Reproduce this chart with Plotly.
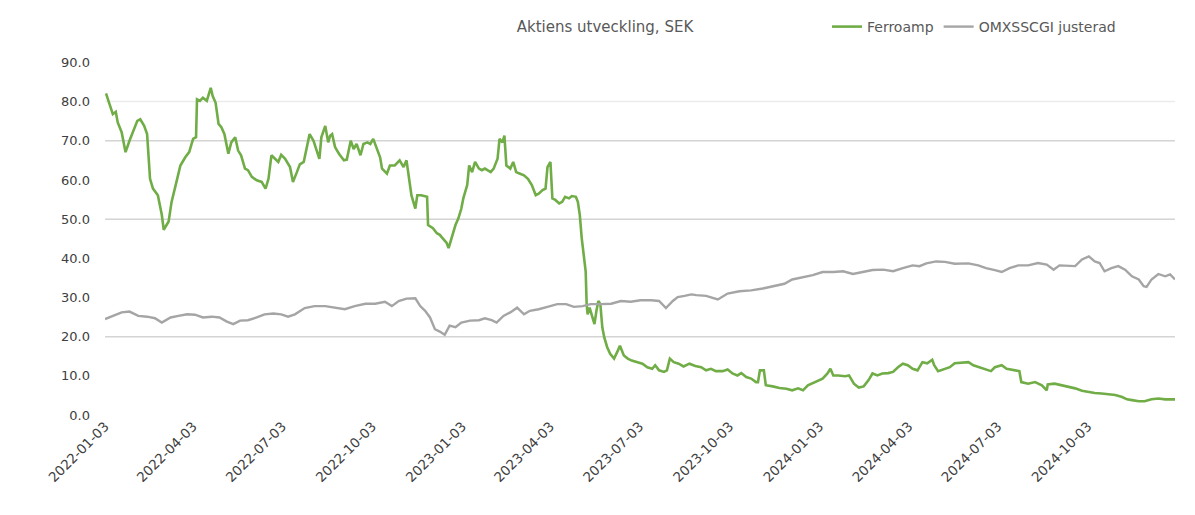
import plotly.graph_objects as go

TITLE = "Aktiens utveckling, SEK"
SERIES_NAMES = ["Ferroamp", "OMXSSCGI justerad"]

FERRO_DATES = [
    "2022-01-04", "2022-01-08", "2022-01-11", "2022-01-14", "2022-01-16", "2022-01-20", "2022-01-24",
    "2022-01-28", "2022-02-01", "2022-02-05", "2022-02-08", "2022-02-12", "2022-02-15", "2022-02-18",
    "2022-02-21", "2022-02-26", "2022-03-02", "2022-03-04", "2022-03-09", "2022-03-12", "2022-03-17",
    "2022-03-21", "2022-03-26", "2022-03-30", "2022-04-03", "2022-04-06", "2022-04-07", "2022-04-10",
    "2022-04-13", "2022-04-17", "2022-04-21", "2022-04-23", "2022-04-26", "2022-04-29", "2022-05-02",
    "2022-05-05", "2022-05-09", "2022-05-12", "2022-05-16", "2022-05-19", "2022-05-22", "2022-05-26",
    "2022-05-29", "2022-06-02", "2022-06-07", "2022-06-12", "2022-06-16", "2022-06-19", "2022-06-22",
    "2022-06-26", "2022-06-29", "2022-07-02", "2022-07-06", "2022-07-11", "2022-07-14", "2022-07-18",
    "2022-07-21", "2022-07-25", "2022-07-28", "2022-07-31", "2022-08-04", "2022-08-06", "2022-08-10",
    "2022-08-12", "2022-08-16", "2022-08-19", "2022-08-21", "2022-08-23", "2022-08-26", "2022-08-30",
    "2022-09-04", "2022-09-07", "2022-09-11", "2022-09-14", "2022-09-17", "2022-09-21", "2022-09-24",
    "2022-09-28", "2022-10-01", "2022-10-04", "2022-10-08", "2022-10-11", "2022-10-13", "2022-10-18",
    "2022-10-21", "2022-10-26", "2022-10-31", "2022-11-04", "2022-11-07", "2022-11-09", "2022-11-12",
    "2022-11-16", "2022-11-18", "2022-11-22", "2022-11-28", "2022-11-29", "2022-12-04", "2022-12-08",
    "2022-12-11", "2022-12-14", "2022-12-18", "2022-12-20", "2022-12-23", "2022-12-27", "2022-12-30",
    "2023-01-02", "2023-01-04", "2023-01-08", "2023-01-10", "2023-01-13", "2023-01-16", "2023-01-20",
    "2023-01-23", "2023-01-26", "2023-02-01", "2023-02-04", "2023-02-08", "2023-02-10", "2023-02-13",
    "2023-02-15", "2023-02-17", "2023-02-21", "2023-02-24", "2023-02-27", "2023-03-03", "2023-03-07",
    "2023-03-11", "2023-03-15", "2023-03-19", "2023-03-22", "2023-03-26", "2023-03-29", "2023-03-31",
    "2023-04-03", "2023-04-05", "2023-04-08", "2023-04-12", "2023-04-15", "2023-04-18", "2023-04-22",
    "2023-04-25", "2023-04-29", "2023-05-01", "2023-05-03", "2023-05-05", "2023-05-07", "2023-05-09",
    "2023-05-10", "2023-05-11", "2023-05-13", "2023-05-16", "2023-05-18", "2023-05-20", "2023-05-22",
    "2023-05-24", "2023-05-26", "2023-05-28", "2023-05-31", "2023-06-03", "2023-06-07", "2023-06-11",
    "2023-06-13", "2023-06-17", "2023-06-21", "2023-06-25", "2023-07-01", "2023-07-06", "2023-07-11",
    "2023-07-16", "2023-07-19", "2023-07-23", "2023-07-28", "2023-07-31", "2023-08-03", "2023-08-07",
    "2023-08-12", "2023-08-17", "2023-08-23", "2023-08-29", "2023-09-04", "2023-09-09", "2023-09-14",
    "2023-09-19", "2023-09-26", "2023-10-01", "2023-10-06", "2023-10-11", "2023-10-15", "2023-10-20",
    "2023-10-25", "2023-10-30", "2023-11-01", "2023-11-03", "2023-11-07", "2023-11-09", "2023-11-16",
    "2023-11-23", "2023-11-30", "2023-12-06", "2023-12-12", "2023-12-17", "2023-12-22", "2023-12-27",
    "2024-01-01", "2024-01-06", "2024-01-11", "2024-01-14", "2024-01-17", "2024-01-22", "2024-01-29",
    "2024-02-02", "2024-02-07", "2024-02-12", "2024-02-17", "2024-02-22", "2024-02-26", "2024-03-02",
    "2024-03-07", "2024-03-13", "2024-03-18", "2024-03-23", "2024-03-28", "2024-04-02", "2024-04-07",
    "2024-04-12", "2024-04-17", "2024-04-22", "2024-04-27", "2024-04-29", "2024-05-03", "2024-05-10",
    "2024-05-15", "2024-05-20", "2024-05-27", "2024-06-03", "2024-06-08", "2024-06-14", "2024-06-21",
    "2024-06-26", "2024-06-30", "2024-07-07", "2024-07-12", "2024-07-19", "2024-07-25", "2024-07-27",
    "2024-08-03", "2024-08-10", "2024-08-17", "2024-08-22", "2024-08-23", "2024-08-30", "2024-09-06",
    "2024-09-13", "2024-09-20", "2024-09-27", "2024-10-04", "2024-10-10", "2024-10-17", "2024-10-24",
    "2024-10-31", "2024-11-07", "2024-11-12", "2024-11-17", "2024-11-24", "2024-11-30", "2024-12-07",
    "2024-12-14", "2024-12-21", "2024-12-28", "2024-12-31",
]
FERRO_VALUES = [
    82.1, 78.9, 76.8, 77.4, 74.7, 72.2, 67.1,
    70.0, 72.6, 75.1, 75.5, 73.8, 71.7, 60.3,
    57.8, 56.1, 51.1, 47.3, 49.4, 54.4, 59.5,
    63.7, 65.8, 67.1, 70.5, 70.9, 80.6, 80.2,
    81.0, 80.2, 83.5, 81.4, 79.7, 74.3, 73.4,
    71.7, 66.7, 69.6, 70.9, 67.5, 66.3, 62.9,
    62.5, 60.8, 59.9, 59.5, 57.8, 60.3, 66.3,
    65.4, 64.6, 66.4, 65.4, 63.3, 59.5, 62.0,
    64.0, 64.6, 67.9, 71.7, 70.0, 68.4, 65.4,
    70.9, 73.8, 69.6, 71.3, 71.7, 68.4, 66.7,
    65.0, 65.2, 70.0, 67.9, 69.2, 66.3, 69.2,
    69.6, 69.2, 70.5, 67.9, 65.8, 62.9, 61.6,
    63.7, 63.7, 65.0, 63.3, 65.0, 61.2, 56.1,
    52.7, 56.1, 56.1, 55.7, 48.5, 47.7, 46.4,
    46.0, 45.1, 43.9, 42.6, 45.1, 48.5, 50.2,
    52.7, 55.3, 58.7, 63.7, 62.0, 64.6, 62.9,
    62.5, 62.9, 62.0, 62.9, 65.4, 70.5, 69.6,
    71.3, 63.7, 62.9, 64.6, 62.0, 61.6, 61.2,
    60.3, 58.7, 56.1, 56.5, 57.4, 57.8, 63.3,
    64.6, 55.3, 54.9, 54.0, 54.4, 55.7, 55.3,
    55.9, 55.7, 54.4, 51.1, 45.1, 40.1, 36.7,
    28.3, 25.7, 27.4, 24.9, 23.2, 26.6, 29.1,
    28.3, 22.4, 19.8, 17.3, 15.6, 14.4, 16.5,
    17.7, 15.2, 14.4, 13.9, 13.5, 13.1, 12.2,
    11.8, 12.7, 11.4, 11.0, 11.4, 14.4, 13.5,
    13.1, 12.4, 13.1, 12.5, 12.2, 11.4, 11.8,
    11.2, 11.2, 11.6, 10.6, 10.1, 10.7, 9.7,
    9.3, 8.4, 8.4, 11.4, 11.4, 7.6, 7.3,
    6.9, 6.7, 6.3, 6.8, 6.3, 7.6, 8.2,
    8.9, 9.3, 10.6, 11.8, 10.1, 10.1, 9.9,
    10.1, 8.0, 7.0, 7.3, 8.9, 10.6, 10.1,
    10.6, 10.7, 11.0, 12.2, 13.1, 12.7, 11.8,
    11.4, 13.5, 13.2, 14.1, 12.7, 11.2, 11.8,
    12.2, 13.2, 13.3, 13.5, 12.7, 12.2, 11.8,
    11.2, 12.2, 12.7, 11.8, 11.4, 11.2, 8.4,
    8.0, 8.4, 7.6, 6.3, 7.8, 8.0, 7.6,
    7.3, 6.8, 6.2, 5.9, 5.6, 5.5, 5.3,
    5.1, 4.6, 4.0, 3.8, 3.5, 3.5, 4.0,
    4.2, 4.0, 4.0, 4.0,
]

INDEX_DATES = [
    "2022-01-03", "2022-01-11", "2022-01-20", "2022-01-28", "2022-02-06", "2022-02-15", "2022-02-23",
    "2022-03-02", "2022-03-11", "2022-03-19", "2022-03-28", "2022-04-05", "2022-04-13", "2022-04-22",
    "2022-04-30", "2022-05-07", "2022-05-14", "2022-05-21", "2022-05-29", "2022-06-07", "2022-06-15",
    "2022-06-24", "2022-07-02", "2022-07-09", "2022-07-16", "2022-07-26", "2022-08-05", "2022-08-16",
    "2022-08-26", "2022-09-05", "2022-09-15", "2022-09-26", "2022-10-06", "2022-10-16", "2022-10-23",
    "2022-10-30", "2022-11-07", "2022-11-16", "2022-11-21", "2022-11-26", "2022-12-01", "2022-12-06",
    "2022-12-11", "2022-12-16", "2022-12-21", "2022-12-27", "2023-01-02", "2023-01-11", "2023-01-20",
    "2023-01-26", "2023-02-02", "2023-02-07", "2023-02-14", "2023-02-21", "2023-02-28", "2023-03-07",
    "2023-03-13", "2023-03-22", "2023-03-31", "2023-04-10", "2023-04-19", "2023-04-27", "2023-05-06",
    "2023-05-14", "2023-05-24", "2023-06-04", "2023-06-14", "2023-06-24", "2023-07-04", "2023-07-15",
    "2023-07-23", "2023-07-30", "2023-08-06", "2023-08-11", "2023-08-18", "2023-08-25", "2023-08-30",
    "2023-09-09", "2023-09-21", "2023-10-01", "2023-10-13", "2023-10-25", "2023-11-06", "2023-11-18",
    "2023-11-28", "2023-12-06", "2023-12-17", "2023-12-27", "2024-01-06", "2024-01-17", "2024-01-27",
    "2024-02-06", "2024-02-16", "2024-02-26", "2024-03-08", "2024-03-18", "2024-03-28", "2024-04-07",
    "2024-04-14", "2024-04-21", "2024-05-01", "2024-05-10", "2024-05-20", "2024-06-03", "2024-06-13",
    "2024-06-21", "2024-06-30", "2024-07-07", "2024-07-15", "2024-07-24", "2024-08-03", "2024-08-13",
    "2024-08-22", "2024-08-29", "2024-09-04", "2024-09-13", "2024-09-20", "2024-09-27", "2024-10-04",
    "2024-10-10", "2024-10-15", "2024-10-20", "2024-10-27", "2024-11-03", "2024-11-10", "2024-11-17",
    "2024-11-24", "2024-11-29", "2024-12-02", "2024-12-07", "2024-12-14", "2024-12-21", "2024-12-26",
    "2024-12-31",
]
INDEX_VALUES = [
    24.5, 25.3, 26.2, 26.4, 25.3, 25.1, 24.7,
    23.6, 24.9, 25.3, 25.7, 25.6, 24.9, 25.1,
    24.9, 23.9, 23.2, 24.1, 24.2, 24.9, 25.7,
    25.9, 25.7, 25.1, 25.7, 27.3, 27.8, 27.8,
    27.4, 27.0, 27.8, 28.4, 28.4, 28.9, 27.8,
    29.1, 29.7, 29.8, 27.8, 26.6, 24.9, 21.9,
    21.3, 20.5, 22.8, 22.4, 23.6, 24.1, 24.2,
    24.7, 24.2, 23.6, 25.3, 26.2, 27.4, 25.7,
    26.6, 27.0, 27.6, 28.3, 28.3, 27.6, 27.8,
    28.3, 28.3, 28.4, 29.1, 28.9, 29.3, 29.3,
    29.1, 27.3, 29.1, 30.1, 30.4, 30.8, 30.6,
    30.4, 29.5, 31.0, 31.6, 31.8, 32.3, 32.9,
    33.5, 34.6, 35.2, 35.7, 36.5, 36.5, 36.7,
    36.0, 36.5, 37.0, 37.1, 36.7, 37.5, 38.2,
    38.0, 38.7, 39.2, 39.1, 38.6, 38.7, 38.2,
    37.5, 37.0, 36.5, 37.5, 38.2, 38.2, 38.8,
    38.4, 37.1, 38.2, 38.0, 38.0, 39.7, 40.5,
    39.2, 38.8, 36.7, 37.5, 38.0, 37.1, 35.4,
    34.6, 32.9, 32.7, 34.6, 36.0, 35.4, 35.9,
    34.6,
]

X_TICKS = [
    "2022-01-03", "2022-04-03", "2022-07-03", "2022-10-03",
    "2023-01-03", "2023-04-03", "2023-07-03", "2023-10-03",
    "2024-01-03", "2024-04-03", "2024-07-03", "2024-10-03",
]
Y_TICKS = [0, 10, 20, 30, 40, 50, 60, 70, 80, 90]
GRID_LEVELS = [20, 50, 70, 80]

GREEN = "#70ad47"
GRAY = "#a5a5a5"
TEXT = "#595959"
FONT = "DejaVu Sans, Arial, sans-serif"

W, H = 1187, 507  # page body adds an 8px offset

fig = go.Figure()
fig.add_trace(go.Scatter(x=FERRO_DATES, y=FERRO_VALUES, mode="lines", name=SERIES_NAMES[0],
                         line=dict(color=GREEN, width=2.6)))
fig.add_trace(go.Scatter(x=INDEX_DATES, y=INDEX_VALUES, mode="lines", name=SERIES_NAMES[1],
                         line=dict(color=GRAY, width=2.4)))

for lvl in GRID_LEVELS:
    fig.add_shape(type="line", xref="paper", yref="y", x0=0, x1=1, y0=lvl, y1=lvl,
                  line=dict(color="#d4d4d4" if lvl != 80 else "#ececec", width=1.5), layer="below")

fig.update_layout(
    width=W, height=H,
    margin=dict(l=97, r=20, t=50, b=100),
    paper_bgcolor="white", plot_bgcolor="white",
    font=dict(family=FONT, color=TEXT, size=13),
    title=dict(text=TITLE, x=597 / W, xanchor="center", y=1 - 19 / H, yanchor="middle",
               font=dict(size=15, color=TEXT, family=FONT)),
    legend=dict(orientation="h", x=819 / W, xanchor="left", y=1 - 19 / H, yanchor="middle",
                xref="container", yref="container",
                font=dict(size=14, color=TEXT, family=FONT), itemwidth=30, bgcolor="rgba(0,0,0,0)"),
    showlegend=True,
)
fig.update_xaxes(type="date", range=["2022-01-03", "2024-12-31"], tickvals=X_TICKS, ticktext=X_TICKS,
                 tickangle=-45, showgrid=False, zeroline=False, showline=False, ticks="",
                 tickfont=dict(size=13.5, color="#404040", family=FONT))
fig.update_yaxes(range=[0, 90], tickvals=Y_TICKS, tickformat=".1f", showgrid=False, zeroline=False,
                 showline=False, ticks="", ticklabelstandoff=14,
                 tickfont=dict(size=13, color="#404040", family=FONT))

fig.write_html("out.html")
